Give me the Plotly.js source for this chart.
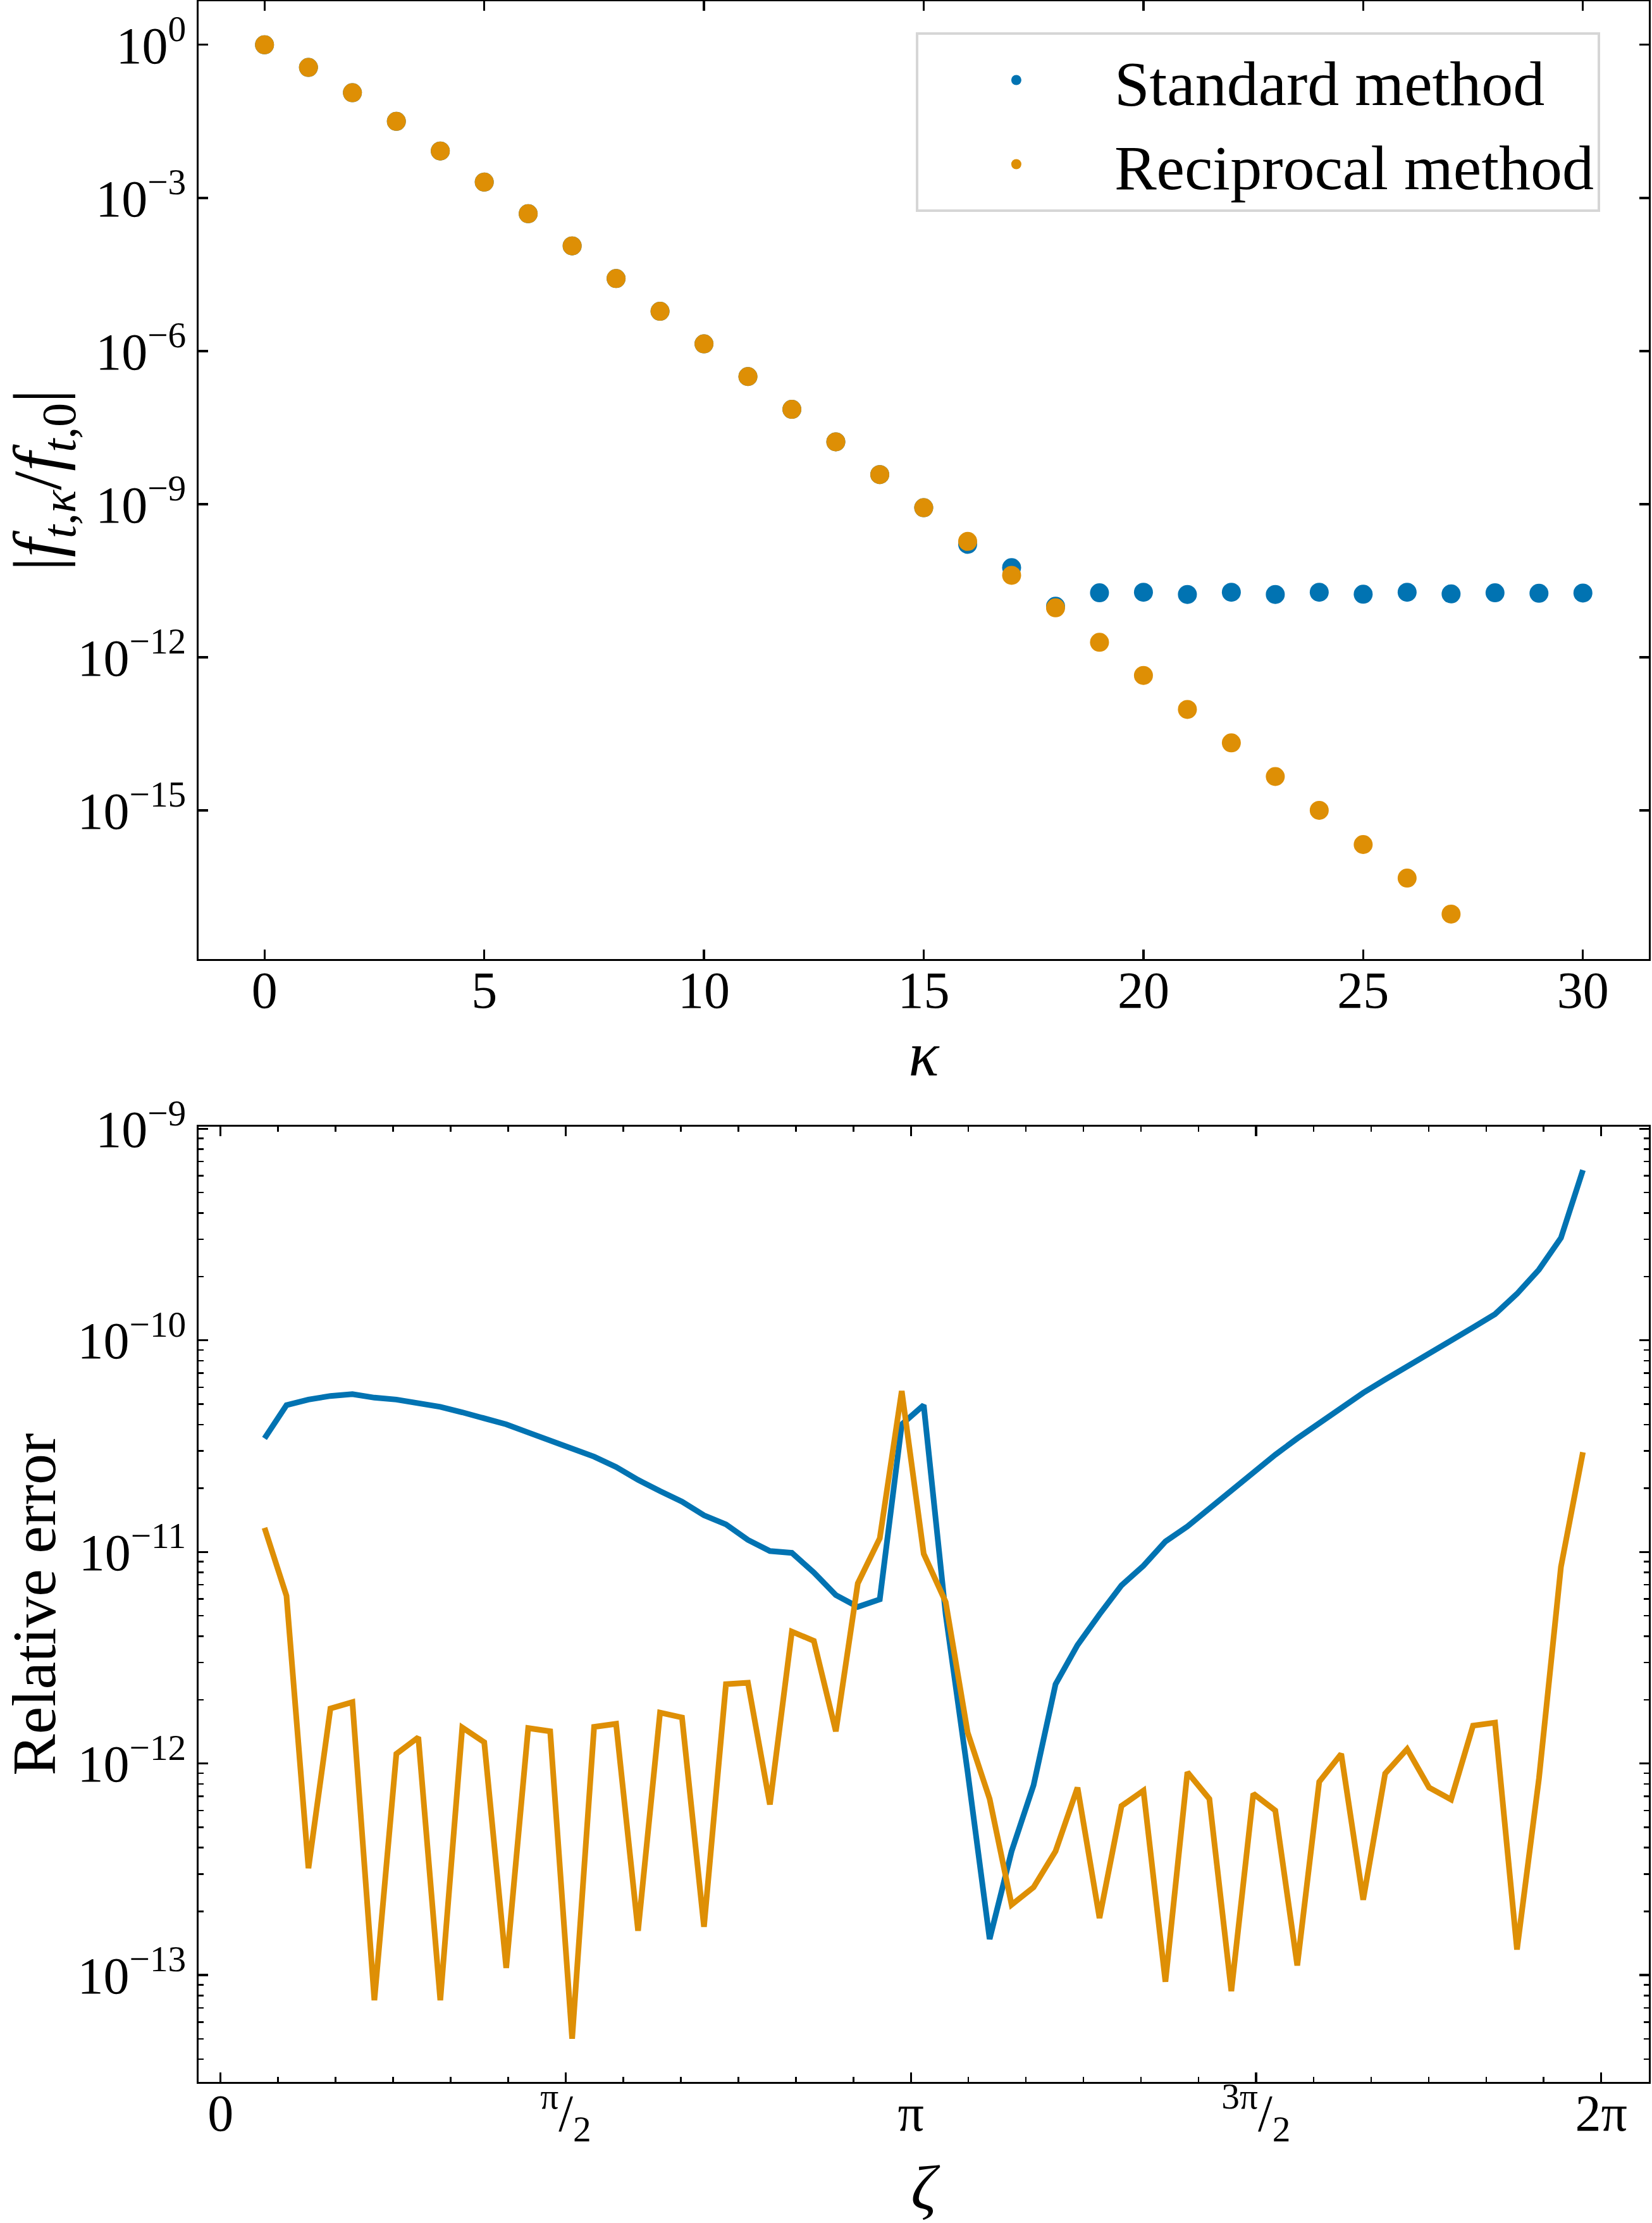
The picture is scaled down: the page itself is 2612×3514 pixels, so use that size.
<!DOCTYPE html>
<html><head><meta charset="utf-8">
<script src="https://cdn.plot.ly/plotly-3.0.1.min.js"></script>
<style>html,body{margin:0;padding:0;background:#fff}</style>
</head><body><div id="chart" style="width:2612px;height:3514px"></div>
<script>
// ---- Top panel data: |f_{t,kappa}/f_{t,0}| ----
const kappaStandard = [0,1,2,3,4,5,6,7,8,9,10,11,12,13,14,15,16,17,18,19,20,21,22,23,24,25,26,27,28,29,30];
const standardCoeff = [1.0,3.6e-1,1.15e-1,3.16e-2,8.3e-3,2.04e-3,4.9e-4,1.15e-4,2.63e-5,6.0e-6,1.38e-6,3.16e-7,7.2e-8,1.66e-8,3.8e-9,8.5e-10,
  1.63e-10,5.7e-11,1.0e-11,1.83e-11,1.88e-11,1.70e-11,1.88e-11,1.70e-11,1.88e-11,1.72e-11,1.88e-11,1.74e-11,1.83e-11,1.79e-11,1.81e-11];
const kappaReciprocal = [0,1,2,3,4,5,6,7,8,9,10,11,12,13,14,15,16,17,18,19,20,21,22,23,24,25,26,27];
const reciprocalCoeff = [1.0,3.6e-1,1.15e-1,3.16e-2,8.3e-3,2.04e-3,4.9e-4,1.15e-4,2.63e-5,6.0e-6,1.38e-6,3.16e-7,7.2e-8,1.66e-8,3.8e-9,8.5e-10,
  1.86e-10,4.03e-11,9.3e-12,1.96e-12,4.4e-13,9.5e-14,2.1e-14,4.6e-15,1.0e-15,2.14e-16,4.7e-17,9.3e-18];

// ---- Bottom panel data: relative error vs zeta ----
const zeta = [0.2,0.3,0.4,0.5,0.6,0.7,0.8,0.9,1.0,1.1,1.2,1.3,1.4,1.5,1.6,1.7,1.8,1.9,2.0,2.1,2.2,2.3,2.4,2.5,2.6,2.7,2.8,2.9,3.0,3.1,3.2,
  3.3,3.4,3.5,3.6,3.7,3.8,3.9,4.0,4.1,4.2,4.3,4.4,4.5,4.6,4.7,4.8,4.9,5.0,5.1,5.2,5.3,5.4,5.5,5.6,5.7,5.8,5.9,6.0,6.1,6.2];
const standardError = [3.44e-11,4.94e-11,5.25e-11,5.46e-11,5.57e-11,5.36e-11,5.25e-11,5.05e-11,4.85e-11,4.57e-11,4.27e-11,4.01e-11,3.67e-11,3.37e-11,3.05e-11,
  2.82e-11,2.52e-11,2.19e-11,1.94e-11,1.73e-11,1.49e-11,1.35e-11,1.14e-11,1.01e-11,9.9e-12,8.0e-12,6.25e-12,5.5e-12,5.97e-12,4.01e-11,4.94e-11,
  5.07e-12,9.1e-13,1.48e-13,3.85e-13,7.9e-13,2.37e-12,3.63e-12,5.07e-12,6.95e-12,8.6e-12,1.12e-11,1.32e-11,1.61e-11,1.96e-11,2.39e-11,2.88e-11,
  3.44e-11,4.06e-11,4.85e-11,5.65e-11,6.53e-11,7.5e-11,8.57e-11,9.9e-11,1.15e-10,1.33e-10,1.66e-10,2.16e-10,3.05e-10,6.38e-10];
const reciprocalError = [1.30e-11,6.2e-12,3.2e-13,1.82e-12,1.95e-12,7.6e-14,1.11e-12,1.33e-12,7.6e-14,1.48e-12,1.26e-12,1.08e-13,1.47e-12,1.42e-12,5.0e-14,
  1.49e-12,1.54e-12,1.62e-13,1.74e-12,1.65e-12,1.69e-13,2.37e-12,2.41e-12,6.4e-13,4.2e-12,3.8e-12,1.42e-12,7.1e-12,1.16e-11,5.76e-11,9.8e-12,
  5.8e-12,1.4e-12,6.8e-13,2.15e-13,2.6e-13,3.85e-13,7.7e-13,1.86e-13,6.3e-13,7.45e-13,9.3e-14,9.1e-13,6.8e-13,8.4e-14,7.2e-13,6.0e-13,
  1.11e-13,8.2e-13,1.11e-12,2.27e-13,8.97e-13,1.17e-12,7.7e-13,6.76e-13,1.51e-12,1.56e-12,1.32e-13,8.5e-13,8.5e-12,2.96e-11];

// ---- Tick labels ----
const topKappaTicks = [0,5,10,15,20,25,30];
const topYTickVals = [1,1e-3,1e-6,1e-9,1e-12,1e-15];
const topYTickText = ['10<sup>0</sup>','10<sup>−3</sup>','10<sup>−6</sup>','10<sup>−9</sup>','10<sup>−12</sup>','10<sup>−15</sup>'];
const botYTickVals = [1e-9,1e-10,1e-11,1e-12,1e-13];
const botYTickText = ['10<sup>−9</sup>','10<sup>−10</sup>','10<sup>−11</sup>','10<sup>−12</sup>','10<sup>−13</sup>'];
const zetaTickText = ['0','<sup>π</sup>/<sub>2</sub>','π','<sup>3π</sup>/<sub>2</sub>','2π'];

const BLUE = '#0173B2', ORANGE = '#DE8F05';
const FONT = 'Liberation Serif, DejaVu Serif, serif';
const PI = Math.PI;
const zetaTickVals = [0, PI/2, PI, 3*PI/2, 2*PI];
const zetaMinor = [];
for (let k = 1; k < 24; k++) if (k % 6 !== 0) zetaMinor.push(k*PI/12);
const logMinor = [];
for (let n = -14; n <= -9; n++) for (let m = 2; m <= 9; m++) logMinor.push(m*Math.pow(10,n));

const traces = [
  {x: kappaStandard, y: standardCoeff, type:'scatter', mode:'markers', name:'Standard method',
   marker:{color:BLUE, size:30}, xaxis:'x', yaxis:'y'},
  {x: kappaReciprocal, y: reciprocalCoeff, type:'scatter', mode:'markers', name:'Reciprocal method',
   marker:{color:ORANGE, size:30}, xaxis:'x', yaxis:'y'},
  {x: zeta, y: standardError, type:'scatter', mode:'lines', showlegend:false,
   line:{color:BLUE, width:9}, xaxis:'x2', yaxis:'y2'},
  {x: zeta, y: reciprocalError, type:'scatter', mode:'lines', showlegend:false,
   line:{color:ORANGE, width:9}, xaxis:'x2', yaxis:'y2'}
];

const axisCommon = {
  showline:true, linecolor:'#000', linewidth:3.3, mirror:'ticks',
  ticks:'inside', ticklen:15, tickwidth:3.3, tickcolor:'#000',
  showgrid:false, zeroline:false,
  tickfont:{family:FONT, size:82, color:'#000'}
};

const layout = {
  width:2612, height:3514,
  margin:{l:314, r:5, t:2, b:223, pad:0},
  paper_bgcolor:'#fff', plot_bgcolor:'#fff',
  font:{family:FONT, color:'#000'},
  showlegend:true,
  legend:{x:0.4945, y:0.9851, xanchor:'left', yanchor:'top',
    bgcolor:'#fff', bordercolor:'#d6d6d6', borderwidth:4,
    font:{family:FONT, size:100, color:'#000'}, itemwidth:300, tracegroupgap:0},
  xaxis: Object.assign({}, axisCommon, {
    domain:[0,1], anchor:'y', range:[-1.5,31.5], ticklabelstandoff:-25,
    tickmode:'array', tickvals:topKappaTicks, ticktext:topKappaTicks.map(String),
    title:{text:'<i>κ</i>', font:{family:FONT, size:100}, standoff:14}
  }),
  yaxis: Object.assign({}, axisCommon, {
    domain:[0.53968,1], anchor:'x', type:'log', range:[-17.913,0.853],
    tickmode:'array', tickvals:topYTickVals, ticktext:topYTickText,
    title:{text:'|<i>f</i><sub><i>t</i>,<i>κ</i></sub>/<i>f</i><sub><i>t</i>,0</sub>|', font:{family:FONT, size:108}, standoff:20}
  }),
  xaxis2: Object.assign({}, axisCommon, {
    domain:[0,1], anchor:'y2', range:[-0.1,6.5], ticklabelstandoff:-25,
    tickmode:'array', tickvals:zetaTickVals, ticktext:zetaTickText,
    minor:{tickmode:'array', tickvals:zetaMinor, ticks:'inside', ticklen:8, tickwidth:2.5, tickcolor:'#000'},
    title:{text:'<i>ζ</i>', font:{family:FONT, size:100}, standoff:51}
  }),
  yaxis2: Object.assign({}, axisCommon, {
    domain:[0,0.45911], anchor:'x2', type:'log', range:[-13.505,-8.99],
    tickmode:'array', tickvals:botYTickVals, ticktext:botYTickText,
    minor:{tickmode:'array', tickvals:logMinor, ticks:'inside', ticklen:8, tickwidth:2.5, tickcolor:'#000'},
    title:{text:'Relative error', font:{family:FONT, size:98}, standoff:20}
  })
};

Plotly.newPlot('chart', traces, layout, {staticPlot:true, displayModeBar:false});
</script>
</body></html>
